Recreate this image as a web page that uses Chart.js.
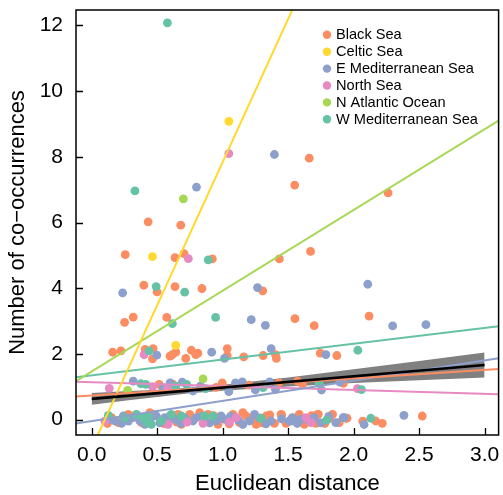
<!DOCTYPE html>
<html><head><meta charset="utf-8">
<script src="https://cdn.jsdelivr.net/npm/chart.js@4/dist/chart.umd.min.js"></script>
<style>html,body{margin:0;padding:0;background:#fff;}</style>
</head><body>
<canvas id="c" width="503" height="495"></canvas>
<script>
// ---------- data ----------
const groups = ["Black Sea","Celtic Sea","E Mediterranean Sea","North Sea","N Atlantic Ocean","W Mediterranean Sea"];
const colors = ["#FC8D62","#FFD92F","#8DA0CB","#E78AC3","#A6D854","#66C2A5"];

const xTicks = [0,0.5,1,1.5,2,2.5,3];
const yTicks = [0,2,4,6,8,10,12];

const blackSeaPts = [
 [0.431,6.02],[0.68,5.92],[1.661,7.96],[1.55,7.14],[2.263,6.90],[1.671,5.12],[0.256,5.02],[0.636,4.93],[0.705,5.05],[0.921,4.89],[1.433,4.89],
 [0.398,4.09],[0.499,3.89],[0.636,4.05],[0.842,3.99],[1.306,3.92],[0.251,2.96],[0.317,3.12],[0.573,3.11],[1.552,3.07],[1.699,2.86],[2.118,3.15],
 [0.160,2.05],[0.223,2.09],[0.408,2.14],[0.469,2.16],[0.464,1.85],[0.616,1.98],[0.598,1.93],[0.642,2.05],[0.718,1.86],[0.761,2.11],[0.811,2.02],
 [0.794,1.98],[1.035,2.16],[1.035,1.95],[1.161,1.91],[1.309,1.95],[1.403,1.98],[1.410,1.86],[1.745,2.02],[1.872,1.95],
 [0.515,1.07],[0.997,1.12],[1.428,1.12],[1.572,1.17],[1.61,1.07],[1.922,1.10],[0.62,1.08],[0.95,0.98],[1.2,1.05],
 [0.152,0.057],[0.279,0.159],[0.203,-0.095],[0.380,-0.095],[0.469,0.159],[0.444,0.209],[0.596,0.057],[0.659,0.159],[0.685,-0.146],[0.748,0.159],
 [0.824,0.209],[0.888,0.159],[0.964,-0.146],[1.078,0.159],[1.128,-0.095],[1.179,0.108],[1.255,-0.146],[1.154,0.209],[1.332,0.108],[1.395,-0.116],
 [1.446,0.159],[1.484,-0.116],[1.585,0.159],[1.725,0.159],[1.712,-0.116],[1.623,-0.146],[1.839,0.159],[1.890,-0.095],[1.813,0.027],[2.07,-0.05],
 [2.168,-0.044],[2.219,-0.116],[2.524,0.108],[1.45,0.14],[1.73,0.16],[1.94,0.04],[0.12,-0.12],[0.24,0.0],[0.33,0.12],[0.55,-0.12],[0.72,0.02],
 [0.86,-0.05],[0.98,0.10],[1.05,-0.13],[1.22,0.02],[1.30,-0.10],[1.36,0.14],[1.53,0.05],[1.60,-0.05],[1.68,0.12],[1.78,-0.12],[1.95,0.04],
 [0.42,0.0],[0.65,-0.08],[0.93,0.12],[1.10,0.05]
];
const celticSeaPts = [[1.047,9.08],[0.464,4.96],[0.642,2.26]];
const eMedPts = [
 [0.80,7.08],[1.395,8.07],[0.236,3.86],[1.266,4.02],[1.218,3.04],[1.326,2.87],[2.108,4.12],[2.298,2.85],[2.552,2.89],
 [0.497,1.96],[0.916,2.05],[1.014,1.86],[1.370,2.16],[1.788,1.98],
 [0.317,1.17],[0.545,0.97],[0.598,1.12],[0.692,1.14],[0.773,0.87],[1.047,0.85],[1.098,1.12],[1.359,1.15],[1.403,0.92],[1.755,0.90],[1.895,1.14],
 [0.83,1.02],[1.25,0.90],[1.15,1.15],
 [0.177,-0.044],[0.241,0.108],[0.228,-0.116],[0.317,0.057],[0.368,-0.044],[0.406,-0.146],[0.494,0.108],[0.558,0.057],[0.634,0.006],[0.710,0.057],
 [0.773,-0.044],[0.799,0.057],[0.951,-0.044],[0.989,0.108],[1.015,0.006],[1.205,-0.044],[1.243,0.159],[1.369,-0.044],[1.509,-0.044],[1.535,0.057],
 [1.598,0.006],[1.699,0.057],[1.661,-0.044],[1.864,-0.095],[1.928,0.057],[2.08,-0.15],[2.384,0.128],[1.154,-0.15],[1.52,-0.05],[1.92,0.06],
 [0.13,0.0],[0.28,-0.05],[0.45,0.05],[0.52,-0.10],[0.60,0.12],[0.68,-0.12],[0.84,0.10],[0.90,-0.10],[1.06,0.10],[1.12,-0.02],[1.28,0.05],
 [1.33,-0.13],[1.45,0.02],[1.57,-0.12],[1.75,-0.10],[1.81,0.10]
];
const northSeaPts = [
 [1.047,8.10],[0.738,4.90],[0.40,1.98],[0.134,0.95],[0.464,1.00],[0.578,0.92],[2.029,0.94],
 [0.101,-0.05],[0.583,-0.146],[0.728,-0.075],[0.850,-0.116],[1.052,-0.075],[1.103,0.057],[1.636,0.057],[1.674,-0.095]
];
const nAtlanticPts = [[0.70,6.72],[0.274,0.89],[0.85,1.24]];
const wMedPts = [
 [0.578,12.08],[0.33,6.96],[0.890,4.86],[0.492,4.05],[0.710,3.88],[0.616,2.92],[0.946,3.11],[0.438,2.09],[2.032,2.11],
 [0.375,1.09],[0.413,1.07],[0.642,1.02],[0.725,1.07],[0.870,0.94],[1.309,0.97],[1.737,1.10],[2.06,0.91],
 [0.127,0.128],[0.253,0.057],[0.342,0.159],[0.393,0.057],[0.431,0.108],[0.456,-0.146],[0.418,-0.075],[0.532,-0.044],[0.608,0.159],
 [0.685,0.108],[0.862,0.108],[0.926,0.108],[1.294,0.04],[1.793,-0.02],[2.131,0.04]
];
const groupPts = [blackSeaPts, celticSeaPts, eMedPts, northSeaPts, nAtlanticPts, wMedPts];

// per-group fitted lines: y at the left and right edges of the plot
const xEdges = [-0.12, 3.107];
const fitLeftY  = [0.70, -1.92, -0.12, 1.15, 1.17, 1.29];
const fitRightY = [1.54, 26.2, 1.87, 0.77, 9.10, 2.84];

// overall fit with confidence band
const overallX = [0, 3];
const overallY = [0.63, 1.66];
const bandX    = [0, 0.25, 0.5, 0.75, 1, 1.5, 2, 2.5, 3];
const bandLow  = [0.45, 0.57, 0.69, 0.80, 0.88, 1.01, 1.11, 1.20, 1.28];
const bandHigh = [0.81, 0.86, 0.91, 0.98, 1.06, 1.28, 1.53, 1.78, 2.04];

// ---------- chart ----------
const FONT = "'Liberation Sans', Arial, Helvetica, sans-serif";
const yMin = -0.47, yMax = 12.47;

const datasets = [];
datasets.push({label:'_overall', data: overallX.map((x,i)=>({x, y: overallY[i]})), showLine:true,
  borderColor:'#000', borderWidth:2.6, pointRadius:0, order:0});
groups.forEach((g,i)=>datasets.push({label:'_fit'+i,
  data:[{x:xEdges[0], y:fitLeftY[i]},{x:xEdges[1], y:fitRightY[i]}], showLine:true,
  borderColor:colors[i], borderWidth:2, pointRadius:0, order:1}));
groups.forEach((g,i)=>datasets.push({label:g,
  data: groupPts[i].map(p=>({x:p[0], y:p[1]})), showLine:false,
  backgroundColor:colors[i], pointBackgroundColor:colors[i], pointBorderColor:'rgba(0,0,0,0)', pointBorderWidth:0,
  pointRadius:4.4, order: 2 + (groups.length-1-i)}));
datasets.push({label:'_bandHigh', data: bandX.map((x,i)=>({x, y: bandHigh[i]})), showLine:true,
  borderColor:'rgba(0,0,0,0)', borderWidth:0, pointRadius:0, fill:'+1', backgroundColor:'#808080', order:20});
datasets.push({label:'_bandLow', data: bandX.map((x,i)=>({x, y: bandLow[i]})), showLine:true,
  borderColor:'rgba(0,0,0,0)', borderWidth:0, pointRadius:0, fill:false, order:20});

const frame = {
  id:'frame',
  afterDraw(chart){
    const {ctx, chartArea:a, scales:{x, y}} = chart;
    ctx.save();
    ctx.strokeStyle = '#000';
    ctx.lineWidth = 1.5;
    ctx.strokeRect(a.left, a.top, a.right - a.left, a.bottom - a.top);
    ctx.lineWidth = 1.3;
    ctx.beginPath();
    xTicks.forEach(v=>{ const p = Math.round(x.getPixelForValue(v))+0.5; ctx.moveTo(p, a.bottom); ctx.lineTo(p, a.bottom - 7); });
    yTicks.forEach(v=>{ const p = Math.round(y.getPixelForValue(v))+0.5; ctx.moveTo(a.left, p); ctx.lineTo(a.left + 7, p); });
    ctx.stroke();
    // legend
    ctx.font = '14.6px ' + FONT;
    ctx.textBaseline = 'middle';
    ctx.textAlign = 'left';
    const lx = a.left + 251, ly = a.top + 24.8, step = 16.9;
    groups.forEach((g,i)=>{
      const yy = ly + step*i;
      ctx.fillStyle = colors[i];
      ctx.beginPath(); ctx.arc(lx, yy, 4.2, 0, Math.PI*2); ctx.fill();
      ctx.fillStyle = '#000';
      ctx.fillText(g, lx + 9, yy + 0.5);
    });
    ctx.restore();
  }
};

const noPad = s => { s.paddingTop = 0; s.paddingBottom = 0; s.paddingLeft = 0; s.paddingRight = 0; };

new Chart(document.getElementById('c'), {
  type:'scatter',
  data:{datasets},
  options:{
    responsive:false, animation:false, devicePixelRatio:1,
    layout:{padding:{top:10, right:3, left:0, bottom:0}},
    plugins:{legend:{display:false}, tooltip:{enabled:false}},
    scales:{
      x:{type:'linear', min:xEdges[0], max:xEdges[1],
        afterBuildTicks: s => { s.ticks = xTicks.map(v=>({value:v})); },
        afterFit: s => { s.height = 60; noPad(s); },
        grid:{display:false, drawTicks:false}, border:{display:false},
        ticks:{font:{family:FONT, size:21}, color:'#000', padding:8, maxRotation:0, autoSkip:false,
          callback: v => Number(v).toFixed(1)},
        title:{display:true, text:'Euclidean distance', font:{family:FONT, size:22}, color:'#000', padding:{top:0, bottom:-2}}
      },
      y:{type:'linear', min:yMin, max:yMax,
        afterBuildTicks: s => { s.ticks = yTicks.map(v=>({value:v})); },
        afterFit: s => { s.width = 76; noPad(s); },
        grid:{display:false, drawTicks:false}, border:{display:false},
        ticks:{font:{family:FONT, size:21}, color:'#000', padding:13, autoSkip:false,
          callback: v => String(v)},
        title:{display:true, text:'Number of co\u2212occurrences', font:{family:FONT, size:22}, color:'#000', padding:{top:5, bottom:0}}
      }
    }
  },
  plugins:[frame]
});
</script>
</body></html>
